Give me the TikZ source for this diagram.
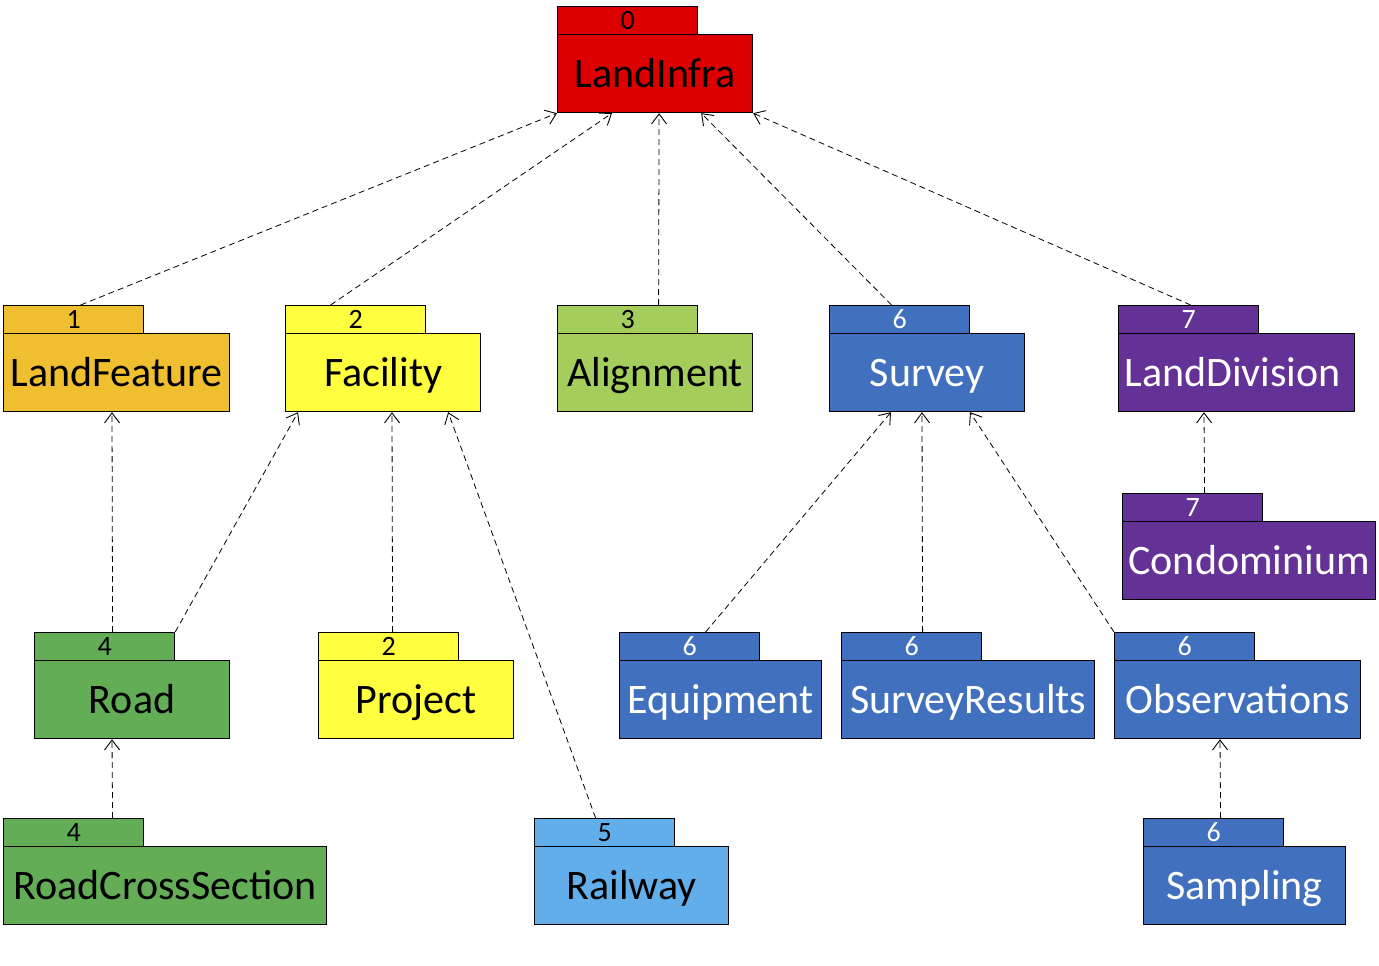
\documentclass[tikz,border=0pt]{standalone}
\usepackage{fontspec}
\setmainfont{Carlito}
\usepackage{xcolor}
\usepackage{tikz}
\usetikzlibrary{shapes, arrows.meta, positioning, calc}

\definecolor{pkred}{HTML}{DC0000}
\definecolor{pkorange}{HTML}{EFBF2F}
\definecolor{pkyellow}{HTML}{FFFF40}
\definecolor{pklime}{HTML}{A5CD5B}
\definecolor{pkblue}{HTML}{4170BE}
\definecolor{pkpurple}{HTML}{643296}
\definecolor{pkgreen}{HTML}{62AD56}
\definecolor{pksky}{HTML}{62AEEB}

\begin{document}
\begin{tikzpicture}[x=1pt,y=-1pt,
  pkbody/.style={draw=black,line width=1.2pt,rectangle,anchor=north west,inner sep=0pt,
    minimum height=78pt,text height=27pt,text depth=0pt,font=\fontsize{42}{42}\selectfont},
  pktab/.style={draw=black,line width=1.2pt,rectangle,anchor=north west,inner sep=0pt,
    minimum width=140pt,minimum height=28pt,text height=17.5pt,text depth=0pt,font=\fontsize{28}{28}\selectfont},
  dep/.style={black,line width=0.8pt,dash pattern=on 6pt off 4pt,
    -{Straight Barb[length=10pt,width=15pt,line width=0.9pt]}}]
  \useasboundingbox (0,0) rectangle (1379,966);

  % Top package
  \node[pktab,fill=pkred] (infraT) at (557,6) {0};
  \node[pkbody,fill=pkred,minimum width=195pt] (infra) at (557,34) {LandInfra};

  % Second row
  \node[pktab,fill=pkorange] (featT) at (3,305) {1};
  \node[pkbody,fill=pkorange,minimum width=226pt] (feat) at (3,333) {LandFeature};
  \node[pktab,fill=pkyellow] (facT) at (285,305) {2};
  \node[pkbody,fill=pkyellow,minimum width=195pt] (fac) at (285,333) {Facility};
  \node[pktab,fill=pklime] (alignT) at (557,305) {3};
  \node[pkbody,fill=pklime,minimum width=195pt] (align) at (557,333) {Alignment};
  \node[pktab,fill=pkblue,text=white] (survT) at (829,305) {6};
  \node[pkbody,fill=pkblue,text=white,minimum width=195pt] (surv) at (829,333) {Survey};
  \node[pktab,fill=pkpurple,text=white] (divT) at (1118,305) {7};
  \node[pkbody,fill=pkpurple,text=white,minimum width=236pt] (div) at (1118,333) {LandDivision\hspace*{8pt}};
  \node[pktab,fill=pkpurple,text=white] (condoT) at (1122,493) {7};
  \node[pkbody,fill=pkpurple,text=white,minimum width=253pt] (condo) at (1122,521) {Condominium};

  % Third row
  \node[pktab,fill=pkgreen] (roadT) at (34,632) {4};
  \node[pkbody,fill=pkgreen,minimum width=195pt] (road) at (34,660) {Road};
  \node[pktab,fill=pkyellow] (projT) at (318,632) {2};
  \node[pkbody,fill=pkyellow,minimum width=195pt] (proj) at (318,660) {Project};
  \node[pktab,fill=pkblue,text=white] (equipT) at (619,632) {6};
  \node[pkbody,fill=pkblue,text=white,minimum width=202pt] (equip) at (619,660) {Equipment};
  \node[pktab,fill=pkblue,text=white] (resT) at (841,632) {6};
  \node[pkbody,fill=pkblue,text=white,minimum width=253pt] (res) at (841,660) {SurveyResults};
  \node[pktab,fill=pkblue,text=white] (obsT) at (1114,632) {6};
  \node[pkbody,fill=pkblue,text=white,minimum width=246pt] (obs) at (1114,660) {Observations};

  % Bottom row
  \node[pktab,fill=pkgreen] (rcsT) at (3,818) {4};
  \node[pkbody,fill=pkgreen,minimum width=323pt] (rcs) at (3,846) {RoadCrossSection};
  \node[pktab,fill=pksky] (railT) at (534,818) {5};
  \node[pkbody,fill=pksky,minimum width=194pt] (rail) at (534,846) {Railway};
  \node[pktab,fill=pkblue,text=white] (sampT) at (1143,818) {6};
  \node[pkbody,fill=pkblue,text=white,minimum width=202pt] (samp) at (1143,846) {Sampling};

  % Dependencies to LandInfra
  \draw[dep] ([xshift=7pt]featT.north) -- (infra.south west);
  \draw[dep] ([xshift=-25pt]facT.north) -- ([xshift=55pt]infra.south west);
  \draw[dep] ([xshift=31pt]alignT.north) -- ([xshift=4pt]infra.south);
  \draw[dep] ([xshift=-8pt]survT.north) -- ([xshift=-52pt]infra.south east);
  \draw[dep] ([xshift=2pt]divT.north) -- (infra.south east);

  % Lower dependencies
  \draw[dep] ([xshift=8pt]roadT.north) -- ([xshift=109pt]feat.south west);
  \draw[dep] (roadT.north east) -- ([xshift=13pt]fac.south west);
  \draw[dep] ([xshift=4pt]projT.north) -- ([xshift=107pt]fac.south west);
  \draw[dep] ([xshift=-9pt]railT.north) -- ([xshift=-33pt]fac.south east);
  \draw[dep] ([xshift=16pt]equipT.north) -- ([xshift=62pt]surv.south west);
  \draw[dep] ([xshift=11pt]resT.north) -- ([xshift=93pt]surv.south west);
  \draw[dep] (obsT.north west) -- ([xshift=141pt]surv.south west);
  \draw[dep] ([xshift=7pt]sampT.north) -- ([xshift=106pt]obs.south west);
  \draw[dep] ([xshift=39pt]rcsT.north) -- ([xshift=78pt]road.south west);
  \draw[dep] ([xshift=12pt]condoT.north) -- ([xshift=86pt]div.south west);
\end{tikzpicture}
\end{document}
